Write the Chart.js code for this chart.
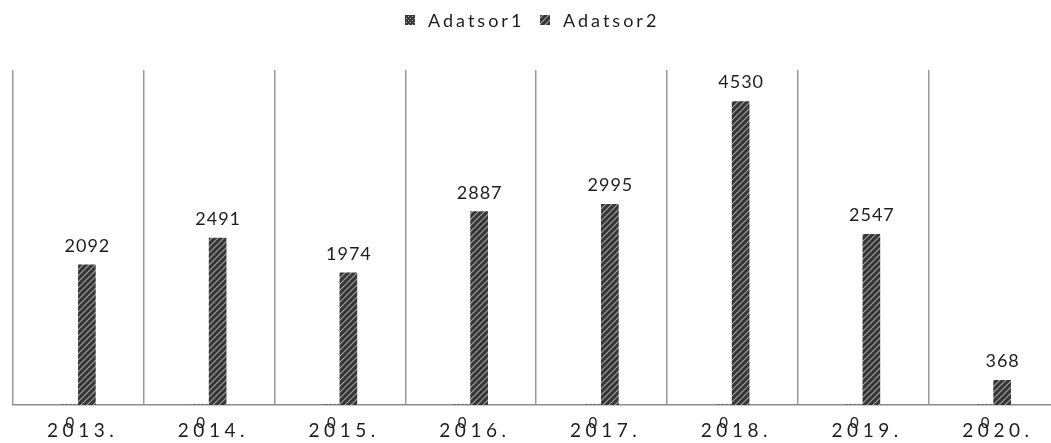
<!DOCTYPE html>
<html lang="hu">
<head>
<meta charset="UTF-8">
<title>Adatsor1 / Adatsor2</title>
<script src="https://cdn.jsdelivr.net/npm/chart.js"></script>
<style>
    html, body {
        margin: 0;
        padding: 0;
        background: #fff;
        overflow: hidden;
    }
    #chart {
        display: block;
    }
</style>
</head>
<body>
<canvas id="chart" width="1060" height="443"></canvas>
<script>
// Évek és adatsorok
const years = ['2013.', '2014.', '2015.', '2016.', '2017.', '2018.', '2019.', '2020.'];
const adatsor1 = [0, 0, 0, 0, 0, 0, 0, 0];
const adatsor2 = [2092, 2491, 1974, 2887, 2995, 4530, 2547, 368];
const seriesNames = ['Adatsor1', 'Adatsor2'];

const FONT = 'Lato, "Liberation Sans", sans-serif';

// ferde csíkos minta az oszlopokhoz
function hatchPattern() {
    const c = document.createElement('canvas');
    c.width = 6; c.height = 6;
    const g = c.getContext('2d');
    g.fillStyle = '#363636';
    g.fillRect(0, 0, 6, 6);
    g.strokeStyle = '#9e9e9e';
    g.lineWidth = 1.2;
    g.beginPath();
    g.moveTo(-1, 7); g.lineTo(7, -1);
    g.moveTo(-4, 4); g.lineTo(4, -4);
    g.moveTo(2, 10); g.lineTo(10, 2);
    g.stroke();
    return g.createPattern(c, 'repeat');
}

// kockás minta (Adatsor1)
function gridPattern() {
    const c = document.createElement('canvas');
    c.width = 4; c.height = 4;
    const g = c.getContext('2d');
    g.fillStyle = '#3a3a3a';
    g.fillRect(0, 0, 4, 4);
    g.fillStyle = '#bbb';
    g.fillRect(0, 0, 1, 1);
    g.fillRect(2, 2, 1, 1);
    return g.createPattern(c, 'repeat');
}

const fills = [gridPattern(), hatchPattern()];

// betűközzel írt szöveg, a záró betűköz nélkül középre igazítva
function spacedText(ctx, text, cx, y, spacing) {
    ctx.letterSpacing = spacing + 'px';
    const w = ctx.measureText(text).width - spacing;
    ctx.textAlign = 'left';
    ctx.fillText(text, cx - w / 2, y);
}

const labelPlugin = {
    id: 'labels',
    afterDraw(chart) {
        const ctx = chart.ctx;
        const xScale = chart.scales.x;
        ctx.save();
        ctx.fillStyle = '#1e1e1e';
        ctx.textBaseline = 'alphabetic';

        // évszámok a vízszintes tengely alatt
        ctx.font = '19px ' + FONT;
        years.forEach((y, i) => {
            spacedText(ctx, y, xScale.getPixelForValue(i) + 2, 437, 4.5);
        });

        // értékcímkék
        chart.data.datasets.forEach((ds, di) => {
            const meta = chart.getDatasetMeta(di);
            meta.data.forEach((bar, i) => {
                const v = ds.data[i];
                if (v === 0) {
                    ctx.font = '15px ' + FONT;
                    spacedText(ctx, String(v), bar.x, 428, 0);
                } else {
                    ctx.font = '18px ' + FONT;
                    spacedText(ctx, String(v), bar.x, bar.y - 13, 1);
                }
            });
        });

        // jelmagyarázat
        const legendX = [405, 540];
        ctx.font = '18px ' + FONT;
        seriesNames.forEach((name, i) => {
            ctx.fillStyle = fills[i];
            ctx.fillRect(legendX[i], 15, 10, 10);
            ctx.fillStyle = '#1e1e1e';
            ctx.letterSpacing = '3px';
            ctx.textAlign = 'left';
            ctx.fillText(name, legendX[i] + 23, 27);
        });
        ctx.restore();
    }
};

new Chart(document.getElementById('chart'), {
    type: 'bar',
    data: {
        labels: years,
        datasets: [
            { label: seriesNames[0], data: adatsor1, backgroundColor: fills[0] },
            { label: seriesNames[1], data: adatsor2, backgroundColor: fills[1] }
        ]
    },
    options: {
        responsive: false,
        animation: false,
        events: [],
        layout: { padding: { left: 13, right: 1, top: 70, bottom: 38 } },
        datasets: {
            bar: { barThickness: 17, categoryPercentage: 0.49 }
        },
        plugins: {
            legend: { display: false },
            tooltip: { enabled: false }
        },
        scales: {
            x: {
                ticks: { display: false },
                grid: {
                    offset: true,
                    color: '#9a9a9a',
                    lineWidth: 1.5,
                    drawTicks: false
                },
                border: { color: '#8c8c8c', width: 1.5 }
            },
            y: {
                display: false,
                min: 0,
                max: 5000
            }
        }
    },
    plugins: [labelPlugin]
});
</script>
</body>
</html>
